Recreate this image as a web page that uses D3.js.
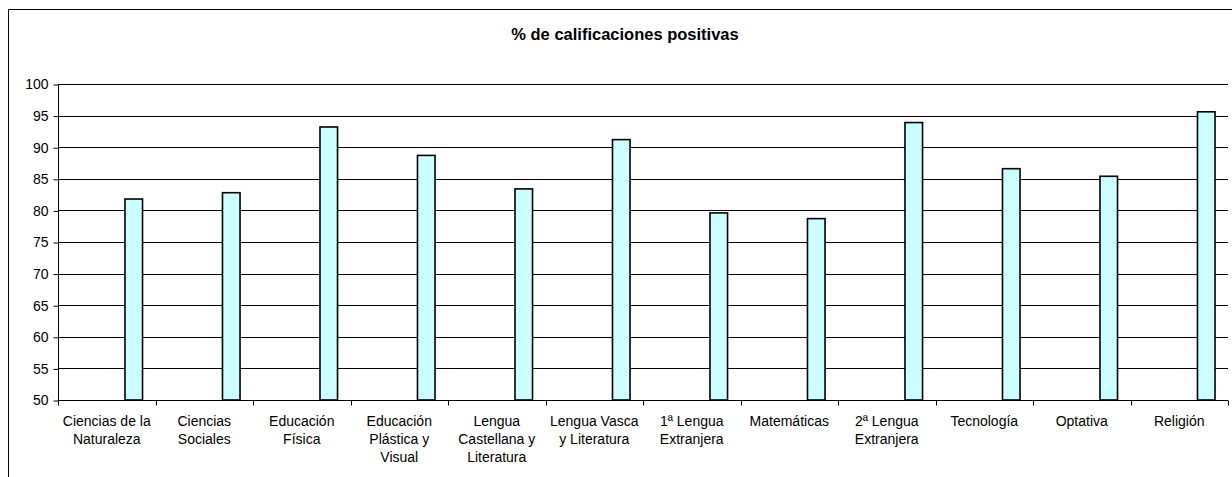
<!DOCTYPE html>
<html>
<head>
<meta charset="utf-8">
<script src="https://cdn.jsdelivr.net/npm/d3@7"></script>
<style>
  html, body { margin: 0; background: #fff; overflow: hidden; }
  svg { display: block; }
  text { font-family: "Liberation Sans", Arial, sans-serif; fill: #000; }
</style>
</head>
<body>
<script>
// data
const categories = [
  "Ciencias de la Naturaleza", "Ciencias Sociales", "Educación Física",
  "Educación Plástica y Visual", "Lengua Castellana y Literatura",
  "Lengua Vasca y Literatura", "1ª Lengua Extranjera", "Matemáticas",
  "2ª Lengua Extranjera", "Tecnología", "Optativa", "Religión"
];
const labelLines = [
  ["Ciencias de la", "Naturaleza"], ["Ciencias", "Sociales"], ["Educación", "Física"],
  ["Educación", "Plástica y", "Visual"], ["Lengua", "Castellana y", "Literatura"],
  ["Lengua Vasca", "y Literatura"], ["1ª Lengua", "Extranjera"], ["Matemáticas"],
  ["2ª Lengua", "Extranjera"], ["Tecnología"], ["Optativa"], ["Religión"]
];
const values = [81.8, 82.8, 93.2, 88.7, 83.4, 91.2, 79.6, 78.7, 93.9, 86.6, 85.4, 95.6];
const yTicks = [50, 55, 60, 65, 70, 75, 80, 85, 90, 95, 100];
const title = "% de calificaciones positivas";

const width = 1232, height = 477;
const margin = {left: 58, right: 4, top: 84, bottom: 77};

const svg = d3.select("body").append("svg")
  .attr("width", width)
  .attr("height", height);

// outer chart frame: only left and top edges are inside the picture
svg.append("path")
  .attr("d", `M8.5,${height}V9.5H${width}`)
  .attr("fill", "none")
  .attr("stroke", "#000");

svg.append("text")
  .attr("x", 625).attr("y", 40)
  .attr("text-anchor", "middle")
  .attr("font-size", "16.5px")
  .attr("font-weight", "bold")
  .text(title);

const x = d3.scaleBand()
  .domain(categories)
  .range([margin.left, width - margin.right]);

const y = d3.scaleLinear()
  .domain([50, 100])
  .range([height - margin.bottom, margin.top]);

// gridlines
svg.append("g")
  .selectAll("line")
  .data(yTicks)
  .enter()
    .append("line")
    .attr("x1", margin.left)
    .attr("x2", width - margin.right)
    .attr("y1", d => Math.round(y(d)) + 0.5)
    .attr("y2", d => Math.round(y(d)) + 0.5)
    .attr("stroke", "#000")
    .attr("stroke-width", 1);

// y axis
const yAxis = svg.append("g")
  .attr("transform", `translate(${margin.left + 0.5},0.5)`)
  .call(d3.axisLeft(y).tickValues(yTicks).tickSize(5).tickPadding(5));
yAxis.selectAll("text").attr("font-size", "14px").attr("font-family", null);
yAxis.selectAll("line, path").attr("stroke", "#000");
yAxis.select(".domain").attr("d", `M0,${Math.round(y(100))}V${Math.round(y(50))}`);

// bars (sit in the right part of each category band)
const barOffset = x.bandwidth() * 0.687;
const barWidth = x.bandwidth() * 0.18;

svg.append("g")
  .selectAll("rect")
  .data(values)
  .enter()
    .append("rect")
    .attr("x", (d, i) => x(categories[i]) + barOffset)
    .attr("y", d => y(d))
    .attr("width", barWidth)
    .attr("height", d => y(50) - y(d))
    .attr("fill", "#ccffff")
    .attr("stroke", "#000")
    .attr("stroke-width", 1.6);

// x axis: ticks at band boundaries
const xBase = Math.round(y(50)) + 0.5;
const boundaries = categories.map(c => x(c)).concat([x.range()[1]]);
svg.append("line")
  .attr("x1", margin.left).attr("x2", width - margin.right)
  .attr("y1", xBase).attr("y2", xBase)
  .attr("stroke", "#000");
svg.append("g")
  .selectAll("line")
  .data(boundaries)
  .enter()
    .append("line")
    .attr("x1", d => Math.round(d) + 0.5)
    .attr("x2", d => Math.round(d) + 0.5)
    .attr("y1", xBase)
    .attr("y2", xBase + 5)
    .attr("stroke", "#000");

const labels = svg.append("g")
  .selectAll("text")
  .data(labelLines)
  .enter()
    .append("text")
    .attr("text-anchor", "middle")
    .attr("font-size", "14px")
    .attr("transform", (d, i) => `translate(${x(categories[i]) + x.bandwidth() / 2},426)`);

labels.selectAll("tspan")
  .data(d => d)
  .enter()
    .append("tspan")
    .attr("x", 0)
    .attr("y", (d, i) => i * 18)
    .text(d => d);
</script>
</body>
</html>
